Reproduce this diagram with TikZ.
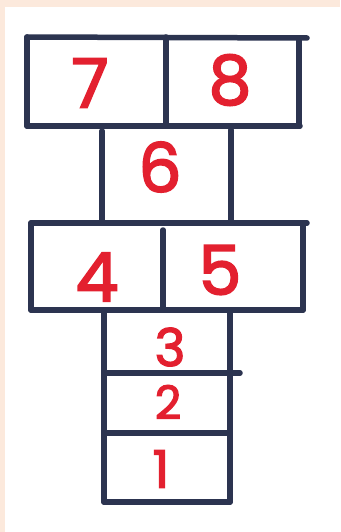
\documentclass[tikz,border=0pt]{standalone}
\usepackage{fontspec}
\newfontfamily\digitfont{Poppins}[FakeBold=2.6]
\definecolor{ink}{HTML}{2C3450}
\definecolor{numred}{HTML}{E3202F}
\definecolor{peach}{HTML}{FCE9DC}
\begin{document}
\begin{tikzpicture}[x=1pt,y=-1pt,
  chalk/.style={draw=ink,line width=5.5pt,line cap=round},
  num/.style={text=numred,inner sep=0pt,font=\digitfont\fontsize{#1}{#1}\selectfont},
  num/.default=68]
\useasboundingbox (0,0) rectangle (340,532);
\fill[peach] (0,0) rectangle (340,532);
\fill[white] (5,7) rectangle (340,532);
% top row 7 | 8
\draw[chalk] (27,37) -- (307,38);
\draw[chalk] (27,126) -- (300,126);
\draw[chalk] (27,37) -- (27,126);
\draw[chalk] (166,37) -- (166,126);
\draw[chalk] (299,40) -- (299,126);
% row 6
\draw[chalk] (102,131) -- (102,222);
\draw[chalk] (231,130) -- (231,222);
% row 4 | 5
\draw[chalk] (31,223) -- (307,223);
\draw[chalk] (31,310) -- (303,310);
\draw[chalk] (31,223) -- (31,310);
\draw[chalk] (163,230) -- (163,310);
\draw[chalk] (303,223) -- (303,310);
% column 3, 2, 1
\draw[chalk] (104,310) -- (104,502);
\draw[chalk] (230,310) -- (230,502);
\draw[chalk] (104,373) -- (240,373);
\draw[chalk] (104,433) -- (230,433);
\draw[chalk] (104,502) -- (230,502);
% numbers
\node[num] (n7) at (90,83) {7};
\node[num] (n8) at (230,80) {8};
\node[num] (n6) at (160,167) {6};
\node[num] (n4) at (97,277) {4};
\node[num] (n5) at (220,270) {5};
\node[num=52] (n3) at (170,347) {3};
\node[num=46] (n2) at (168,402) {2};
\node[num=52] (n1) at (161,469) {1};
\end{tikzpicture}
\end{document}
